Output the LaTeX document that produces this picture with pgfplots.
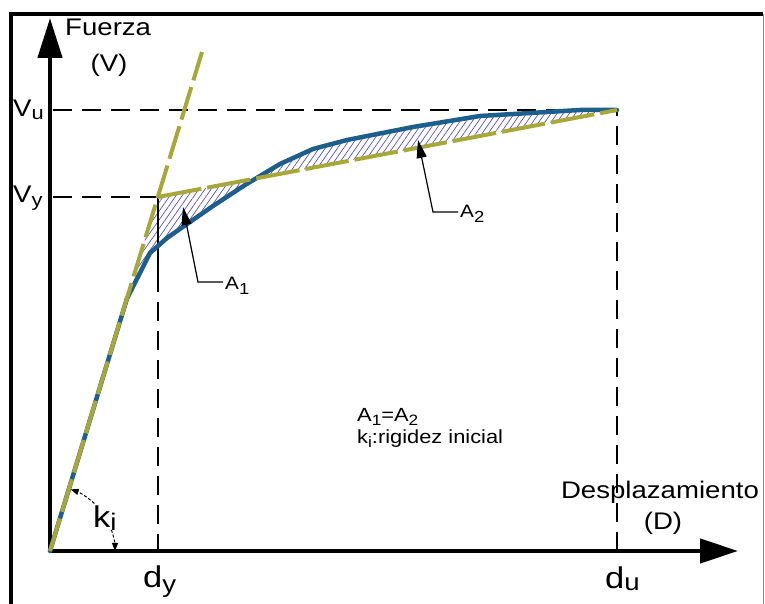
\documentclass[border=0pt]{standalone}
\usepackage{pgfplots}
\pgfplotsset{compat=1.18}
\usepgfplotslibrary{fillbetween}
\usetikzlibrary{arrows.meta,patterns.meta}
\usepackage{fontspec}
\setmainfont{Liberation Sans}[FakeStretch=1.15]
\definecolor{cblue}{RGB}{28,94,140}
\definecolor{colive}{RGB}{168,168,56}
\definecolor{chatch}{RGB}{80,80,205}
\newcommand{\fs}[1]{\fontsize{#1}{#1}\selectfont}
\newcommand{\sub}[3]{\raisebox{-#1}{\fs{#2}#3}}

\begin{document}
\begin{tikzpicture}
\begin{axis}[
  x=1pt, y=1pt,
  xmin=0, xmax=688, ymin=0, ymax=533,
  axis lines=left,
  axis line style={line width=4.5pt, black},
  every outer x axis line/.append style={-{Triangle[length=38pt,width=24pt]}},
  every outer y axis line/.append style={-{Triangle[length=40pt,width=24pt]}},
  xtick=\empty, ytick=\empty,
  clip=false,
]
\coordinate (BL) at (axis cs:-50,-53);
\coordinate (TR) at (axis cs:715,551);

% frame
\draw[line width=4pt, line join=miter] (axis cs:-39,-53) -- (axis cs:-39,536.5) -- (axis cs:713,536.5);
\draw[black!45, line width=1.5pt] (axis cs:713.5,536.5) -- (axis cs:713.5,-53);

% reference dashed lines
\draw[black, line width=1.3pt, dash pattern=on 19pt off 10pt] (axis cs:3,441) -- (axis cs:567,441) -- (axis cs:567,0);
\draw[black, line width=1.3pt, dash pattern=on 19pt off 10pt] (axis cs:3,354) -- (axis cs:108,354);
\draw[black, line width=1.3pt, dash pattern=on 95pt off 10pt on 19pt off 10pt on 19pt off 10pt on 19pt off 10pt on 19pt off 10pt on 19pt off 10pt on 19pt off 10pt on 19pt off 10pt on 19pt off 10pt] (axis cs:108,354) -- (axis cs:108,0);

% curves
\addplot[name path=cap, draw=none, forget plot] coordinates {
(0,0) (77,252.5) (100,298) (117,313) (137,327) (163,345) (195,366)
(230,387) (263,402) (297,411) (363,424) (430,435) (497,439) (530,441) (567,441)};
\addplot[name path=bil, draw=none, forget plot] coordinates {(0,0) (108,354) (567,441)};
\addplot[draw=none, pattern={Lines[angle=55,distance=5pt,line width=0.7pt]}, pattern color=chatch, forget plot] fill between[of=cap and bil];

\addplot[cblue, line width=4.5pt, line join=round, line cap=round] coordinates {
(0,0) (77,252.5) (100,298) (117,313) (137,327) (163,345) (195,366)
(230,387) (263,402) (297,411) (363,424) (430,435) (497,439) (530,441) (567,441)};
\addplot[colive, line width=4pt, dash pattern=on 34pt off 7pt] coordinates {(0,0) (152,499)};
\addplot[colive, line width=4pt, dash pattern=on 44pt off 6pt] coordinates {(108,354) (567,441)};

% leaders
\draw[line width=1.2pt, -{Triangle[length=18pt,width=10pt]}] (axis cs:173,269) -- (axis cs:148,269) -- (axis cs:133,344);
\draw[line width=1.2pt, -{Triangle[length=18pt,width=10pt]}] (axis cs:408,339) -- (axis cs:383,339) -- (axis cs:368,411);
\draw[line width=1pt, densely dashed, -{Triangle[length=8pt,width=6pt]}] (axis cs:0,0) ++(47:65pt) arc[start angle=47, end angle=71.5, radius=65pt];
\draw[line width=1pt, densely dashed, -{Triangle[length=8pt,width=6pt]}] (axis cs:0,0) ++(19:65pt) arc[start angle=19, end angle=0, radius=65pt];

% labels
\node[anchor=west, inner sep=0pt] at (axis cs:15,524) {\fs{24}Fuerza};
\node[inner sep=0pt] at (axis cs:59,486) {\fs{24}(V)};
\node[anchor=base west, inner sep=0pt] at (axis cs:-37,434) {\fs{24}V\sub{3pt}{19}{u}};
\node[anchor=base west, inner sep=0pt] at (axis cs:-37,348) {\fs{24}V\sub{4pt}{19}{y}};
\node[anchor=base west, inner sep=0pt] at (axis cs:93,-37) {\fs{30}d\sub{5pt}{24}{y}};
\node[anchor=base west, inner sep=0pt] at (axis cs:555,-38) {\fs{30}d\sub{2pt}{24}{u}};
\node[anchor=base west, inner sep=0pt] at (axis cs:43,23) {\fs{30}k\sub{3pt}{24}{i}};
\node[anchor=base west, inner sep=0pt] at (axis cs:175,261) {\fs{18}A\sub{5pt}{16}{1}};
\node[anchor=base west, inner sep=0pt] at (axis cs:410,333) {\fs{18}A\sub{5pt}{16}{2}};
\node[anchor=base west, inner sep=0pt] at (axis cs:307,129) {\fs{19}A\sub{4pt}{15}{1}=A\sub{4pt}{15}{2}};
\node[anchor=base west, inner sep=0pt] at (axis cs:307,107) {\fs{19}k\sub{4pt}{15}{i}:rigidez inicial};
\node[anchor=base, inner sep=0pt] at (axis cs:610,52) {\fs{24}Desplazamiento};
\node[anchor=base, inner sep=0pt] at (axis cs:613,21) {\fs{24}(D)};
\end{axis}
\pgfresetboundingbox
\useasboundingbox (BL) rectangle (TR);
\end{tikzpicture}
\end{document}
